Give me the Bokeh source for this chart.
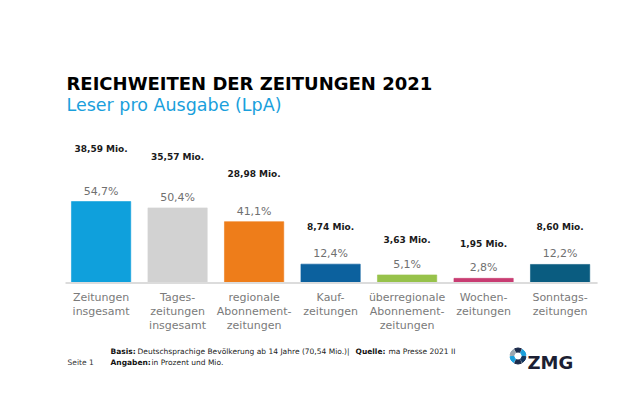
from bokeh.plotting import figure
from bokeh.models import ColumnDataSource, Label
from bokeh.core.properties import value
from bokeh.embed import file_html
from bokeh.resources import INLINE

categories = [
    "Zeitungen\ninsgesamt",
    "Tages-\nzeitungen\ninsgesamt",
    "regionale\nAbonnement-\nzeitungen",
    "Kauf-\nzeitungen",
    "überregionale\nAbonnement-\nzeitungen",
    "Wochen-\nzeitungen",
    "Sonntags-\nzeitungen",
]
percent = [54.7, 50.4, 41.1, 12.4, 5.1, 2.8, 12.2]
millions = [38.59, 35.57, 28.98, 8.74, 3.63, 1.95, 8.60]
bar_colors = ["#0fa0dc", "#d2d2d2", "#ee7d1a", "#0c619e", "#97c24b", "#c83c72", "#0a5c80"]

title = "REICHWEITEN DER ZEITUNGEN 2021"
subtitle = "Leser pro Ausgabe (LpA)"

FONT = "DejaVu Sans"
W, H = 614, 404
STEP = 76.5      # px per category
SCALE = 1.48     # px per percent
X0_PX = 100.6    # centre of first bar
Y0_PX = H - 282  # baseline, from bottom

source = ColumnDataSource(dict(
    x=list(range(len(categories))),
    top=percent,
    mio_y=[v * 1.236 for v in percent],  # Mio. labels drift up a bit more on taller bars
    color=bar_colors,
    cat=categories,
    pct=[f"{v:.1f}".replace(".", ",") + "%" for v in percent],
    mio=[f"{v:.2f}".replace(".", ",") + " Mio." for v in millions],
))

p = figure(
    width=W, height=H,
    x_range=(-X0_PX / STEP, (W - X0_PX) / STEP),
    y_range=(-Y0_PX / SCALE, (H - Y0_PX) / SCALE),
    output_backend="svg", toolbar_location=None,
    min_border=0, outline_line_color=None,
)
p.axis.visible = False
p.grid.visible = False
p.background_fill_color = "white"
p.border_fill_color = "white"

p.vbar(x="x", top="top", width=0.775, bottom=0, source=source,
       fill_color="color", line_color="color", line_alpha=0.6)
p.segment(x0=-0.465, y0=-0.3, x1=6.49, y1=-0.3, line_color="#dcdcdc", line_width=2)

p.text(x="x", y="top", text="pct", source=source, text_align="center",
       text_baseline="bottom", y_offset=-4, text_font=value(FONT),
       text_font_size="11px", text_color="#707070")
p.text(x="x", y="mio_y", text="mio", source=source, text_align="center",
       text_baseline="middle", y_offset=-33, text_font=value(FONT),
       text_font_size="9px", text_font_style="bold", text_color="#1a1a1a")
p.text(x="x", y=0, text="cat", source=source, text_align="center",
       text_baseline="top", y_offset=8, text_font=value(FONT),
       text_font_size="11px", text_color="#7a7a7a", text_line_height=1.1)


def label(txt, x, y, size, color="#222222", style="normal", font=FONT):
    p.add_layout(Label(x=x, y=H - y, x_units="screen", y_units="screen",
                       text=txt, text_font=font, text_font_size=size,
                       text_font_style=style, text_color=color,
                       text_baseline="alphabetic"))


label(title, 66, 83, "18px", "#000000", "bold")
label(subtitle, 66, 104, "17.5px", "#1a9fdc")

label("Seite 1", 67, 362, "7.5px", "#333333")
label("Basis:", 110, 351, "7.5px", "#111111", "bold")
label("Deutschsprachige Bevölkerung ab 14 Jahre (70,54 Mio.)|", 137, 351, "7.5px", "#222222")
label("Quelle:", 355, 351, "7.5px", "#111111", "bold")
label("ma Presse 2021 II", 388, 351, "7.5px", "#222222")
label("Angaben:", 110, 362, "7.5px", "#111111", "bold")
label("in Prozent und Mio.", 151, 362, "7.5px", "#222222")

# ZMG logo
lx = (517.5 - X0_PX) / STEP
ly = ((H - 355.5) - Y0_PX) / SCALE
ring_colors = ["#1a9fdc", "#1b2a4a", "#9aa6b0", "#1a9fdc", "#1b2a4a", "#14365e"]
for i, c in enumerate(ring_colors):
    a0 = i * 60 + 5
    p.annular_wedge(x=lx, y=ly, inner_radius=4, outer_radius=8,
                    inner_radius_units="screen", outer_radius_units="screen",
                    start_angle=a0, end_angle=a0 + 50, start_angle_units="deg",
                    end_angle_units="deg", color=c)
label("ZMG", 527, 362, "18px", "#1c1f33", "bold")

open("out.html", "w").write(file_html(p, INLINE))
